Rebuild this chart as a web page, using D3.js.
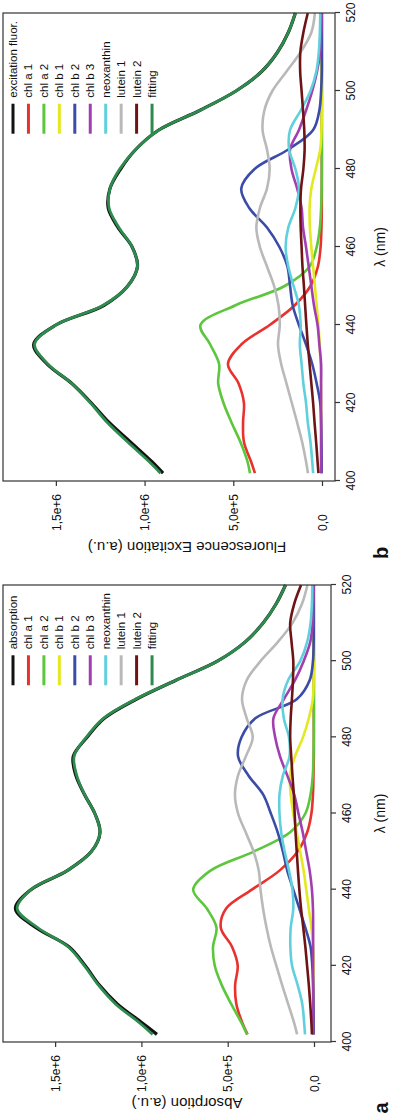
<!DOCTYPE html>
<html>
<head>
<meta charset="utf-8">
<script src="https://cdn.jsdelivr.net/npm/d3@7"></script>
<style>
  body { margin: 0; background: #fff; }
  svg { display: block; font-family: "Liberation Sans", Arial, sans-serif; }
</style>
</head>
<body>
<div class="chart"></div>
<script>
// wavelength grid (nm), shared by every series
const lambda = [402, 405, 410, 415, 420, 425, 430, 435, 440, 445, 450, 455, 460,
  465, 470, 475, 480, 485, 490, 495, 500, 505, 510, 515, 520];

const seriesNames = ["chl a 1", "chl a 2", "chl b 1", "chl b 2", "chl b 3",
  "neoxanthin", "lutein 1", "lutein 2"];
const seriesColors = ["#e8322e", "#5cc63c", "#e4e81e", "#3b4ba8", "#a23fb0",
  "#5fd0dc", "#b9b9b9", "#6e1414"];
const mainColor = "#111111";
const fitColor = "#2e8b4e";

// values in units of 1e5 (a.u.)
// ---- panel a : absorption
const absorption = [9.1, 9.95, 11.4, 12.45, 13.25, 14.2, 16.1, 17.3, 16.4, 14.3, 12.9, 12.4, 12.7,
  13.3, 13.8, 13.95, 13.15, 12.15, 10.3, 8.0, 5.6, 4.0, 2.95, 2.2, 1.65];
const fitA = [9.35, 10.1, 11.5, 12.5, 13.3, 14.25, 16.0, 17.2, 16.4, 14.3, 12.9, 12.4, 12.7,
  13.3, 13.75, 13.9, 13.2, 12.2, 10.35, 8.0, 5.6, 4.0, 2.95, 2.2, 1.65];
const chlA1A = [3.85, 4.15, 4.5, 4.57, 4.42, 4.75, 5.4, 5.1, 3.6, 2.0, 0.95, 0.4, 0.15,
  0.06, 0.03, 0.01, 0.01, 0.01, 0.01, 0.01, 0.01, 0.01, 0.01, 0.01, 0.01];
const chlA2A = [3.88, 4.2, 4.8, 5.35, 5.75, 5.85, 5.65, 6.2, 7.0, 6.0, 3.5, 1.4, 0.5,
  0.2, 0.07, 0.03, 0.01, 0.01, 0.01, 0.01, 0.01, 0.01, 0.01, 0.01, 0.01];
const chlB1A = [0.03, 0.03, 0.03, 0.03, 0.03, 0.05, 0.15, 0.3, 0.45, 0.6, 0.8, 1.0, 1.2,
  1.35, 1.39, 1.1, 0.64, 0.3, 0.07, 0.02, 0.01, 0.01, 0.01, 0.01, 0.01];
const chlB2A = [0.02, 0.02, 0.03, 0.05, 0.1, 0.2, 0.5, 0.85, 1.2, 1.55, 1.8, 2.1, 2.5,
  2.95, 3.8, 4.4, 4.2, 3.4, 1.0, 0.25, 0.06, 0.02, 0.02, 0.02, 0.02];
const chlB3A = [0.05, 0.05, 0.05, 0.05, 0.05, 0.05, 0.05, 0.06, 0.12, 0.25, 0.45, 0.65, 0.9,
  1.15, 1.55, 1.97, 2.25, 2.35, 1.75, 1.1, 0.6, 0.22, 0.08, 0.04, 0.02];
const neoA = [0.52, 0.57, 0.68, 0.95, 1.27, 1.37, 1.35, 1.2, 1.25, 1.45, 1.7, 1.9, 2.0,
  2.0, 1.8, 1.42, 1.45, 1.75, 1.82, 1.5, 0.8, 0.4, 0.2, 0.12, 0.1];
const lut1A = [0.98, 1.15, 1.5, 1.85, 2.18, 2.5, 2.75, 2.95, 3.1, 3.2, 3.5, 3.95, 4.4,
  4.58, 4.4, 3.95, 3.55, 3.9, 4.17, 3.9, 3.1, 2.1, 1.25, 0.7, 0.38];
const lut2A = [0.12, 0.15, 0.22, 0.3, 0.4, 0.5, 0.62, 0.75, 0.85, 0.93, 1.0, 1.07, 1.12,
  1.17, 1.25, 1.32, 1.38, 1.35, 1.28, 1.22, 1.2, 1.3, 1.38, 1.15, 0.75];

// ---- panel b : excitation fluorescence
const excitation = [8.96, 9.6, 10.8, 12.0, 13.0, 14.1, 15.5, 16.25, 15.0, 12.3, 10.95, 10.4, 10.7,
  11.5, 12.05, 11.95, 11.35, 10.5, 9.2, 6.9, 4.85, 3.4, 2.5, 1.9, 1.5];
const fitB = [9.1, 9.75, 10.95, 12.1, 13.05, 14.1, 15.45, 16.2, 15.0, 12.35, 10.95, 10.4, 10.7,
  11.45, 12.0, 11.95, 11.4, 10.5, 9.2, 6.9, 4.85, 3.4, 2.5, 1.9, 1.5];
const chlA1B = [3.78, 4.0, 4.4, 4.45, 4.4, 4.7, 5.3, 4.55, 2.95, 1.55, 0.65, 0.23, 0.08,
  0.03, 0.01, 0.01, 0.01, 0.01, 0.01, 0.01, 0.01, 0.01, 0.01, 0.01, 0.01];
const chlA2B = [4.06, 4.2, 4.6, 5.1, 5.55, 5.85, 5.8, 6.3, 6.85, 4.9, 2.1, 0.7, 0.3,
  0.12, 0.05, 0.02, 0.01, 0.01, 0.01, 0.01, 0.01, 0.01, 0.01, 0.01, 0.01];
const chlB1B = [0.05, 0.05, 0.05, 0.05, 0.05, 0.06, 0.08, 0.13, 0.2, 0.3, 0.4, 0.5, 0.6,
  0.68, 0.7, 0.6, 0.35, 0.1, 0.03, 0.01, 0.01, 0.01, 0.01, 0.01, 0.01];
const chlB2B = [0.02, 0.02, 0.03, 0.05, 0.1, 0.3, 0.55, 0.9, 1.3, 1.65, 1.8, 1.95, 2.4,
  3.1, 4.1, 4.55, 3.8, 1.9, 0.5, 0.15, 0.05, 0.01, 0.01, 0.01, 0.01];
const chlB3B = [0.05, 0.05, 0.05, 0.05, 0.05, 0.05, 0.05, 0.15, 0.25, 0.45, 0.6, 0.75, 0.9,
  1.07, 1.15, 1.4, 1.72, 1.8, 1.3, 0.9, 0.55, 0.28, 0.1, 0.04, 0.02];
const neoB = [0.5, 0.55, 0.65, 0.8, 0.9, 1.05, 1.15, 1.25, 1.2, 1.3, 1.6, 1.9, 2.05,
  1.9, 1.5, 1.3, 1.5, 1.85, 1.8, 1.2, 0.65, 0.32, 0.18, 0.12, 0.1];
const lut1B = [0.79, 0.9, 1.12, 1.4, 1.7, 2.0, 2.3, 2.48, 2.38, 2.45, 2.7, 3.1, 3.5,
  3.7, 3.5, 3.1, 2.95, 3.1, 3.35, 3.25, 2.8, 2.0, 1.2, 0.6, 0.4];
const lut2B = [0.2, 0.25, 0.33, 0.42, 0.5, 0.6, 0.7, 0.8, 0.88, 0.95, 1.02, 1.1, 1.15,
  1.2, 1.22, 1.18, 1.05, 0.98, 1.0, 1.07, 1.15, 1.23, 1.22, 1.05, 0.8];

// axis ticks
const lambdaTicks = [400, 420, 440, 460, 480, 500, 520];
const valueTicks = [0, 5, 10, 15];
const valueTickLabels = ["0,0", "5,0e+5", "1,0e+6", "1,5e+6"];

// the whole figure is drawn landscape and then turned a quarter turn
const W = 1117, H = 393;

const panels = [
  {
    letter: "a", mainName: "absorption", title: "Absorption (a.u.)",
    main: absorption, fit: fitA,
    comps: [chlA1A, chlA2A, chlB1A, chlB2A, chlB3A, neoA, lut1A, lut2A],
    x0: 75, x1: 532, y0: 3, y1: 331, yDomain: [-0.985, 18.02],
    titleX: 14, letterX: 9
  },
  {
    letter: "b", mainName: "excitation fluor.", title: "Fluorescence Excitation (a.u.)",
    main: excitation, fit: fitB,
    comps: [chlA1B, chlA2B, chlB1B, chlB2B, chlB3B, neoB, lut1B, lut2B],
    x0: 636, x1: 1104, y0: 3, y1: 335, yDomain: [-0.733, 17.98],
    titleX: 570, letterX: 564
  }
];

const svg = d3
  .select(".chart")
  .append("svg")
  .attr("width", H)
  .attr("height", W);

svg.append("rect").attr("width", H).attr("height", W).attr("fill", "#fff");

const fig = svg
  .append("g")
  .attr("transform", `translate(0,${W}) rotate(-90)`);

panels.forEach((p) => {
  const g = fig.append("g");

  const xScale = d3.scaleLinear().domain([400, 520]).range([p.x0, p.x1]);
  const yScale = d3.scaleLinear().domain(p.yDomain).range([p.y1, p.y0]);

  const line = d3
    .line()
    .x((d) => xScale(d[0]))
    .y((d) => yScale(d[1]))
    .curve(d3.curveCatmullRom.alpha(0.5));

  const toPts = (vals) => lambda.map((l, i) => [l, vals[i]]);

  // curves
  g.append("path")
    .attr("d", line(toPts(p.main)))
    .attr("fill", "none")
    .attr("stroke", mainColor)
    .attr("stroke-width", 3.2);

  p.comps.forEach((vals, i) => {
    g.append("path")
      .attr("d", line(toPts(vals)))
      .attr("fill", "none")
      .attr("stroke", seriesColors[i])
      .attr("stroke-width", 2.6);
  });

  g.append("path")
    .attr("d", line(toPts(p.fit)))
    .attr("fill", "none")
    .attr("stroke", fitColor)
    .attr("stroke-width", 2.8);

  // box
  g.append("rect")
    .attr("x", p.x0)
    .attr("y", p.y0)
    .attr("width", p.x1 - p.x0)
    .attr("height", p.y1 - p.y0)
    .attr("fill", "none")
    .attr("stroke", "#333")
    .attr("stroke-width", 1.2);

  // axes
  const xAxis = d3.axisBottom(xScale).tickValues(lambdaTicks).tickSize(5).tickSizeOuter(0).tickPadding(6);
  g.append("g")
    .attr("class", "axis x-axis")
    .attr("transform", `translate(0,${p.y1})`)
    .call(xAxis)
    .call((a) => a.select(".domain").remove());

  const yAxis = d3
    .axisLeft(yScale)
    .tickValues(valueTicks)
    .tickSize(5)
    .tickSizeOuter(0)
    .tickFormat((d, i) => valueTickLabels[i]);
  g.append("g")
    .attr("class", "axis y-axis")
    .attr("transform", `translate(${p.x0},0)`)
    .call(yAxis)
    .call((a) => a.select(".domain").remove());

  g.selectAll(".tick line").attr("stroke", "#333").attr("stroke-width", 1.2);
  g.selectAll(".tick text")
    .attr("fill", "#111")
    .style("font-size", "12px")
    .style("font-family", '"Liberation Sans", Arial, sans-serif');
  g.selectAll(".x-axis .tick text").attr("dy", "0.71em");
  g.selectAll(".y-axis .tick text")
    .attr("text-anchor", "start")
    .attr("x", -50)
    .attr("dy", "0.35em");

  // axis titles
  g.append("text")
    .attr("x", (p.x0 + p.x1) / 2)
    .attr("y", 385)
    .attr("text-anchor", "middle")
    .style("font-size", "14px")
    .attr("fill", "#111")
    .text("λ (nm)");

  g.append("text")
    .attr("transform", `translate(${p.titleX},187) rotate(-90)`)
    .attr("text-anchor", "middle")
    .attr("dy", "0.35em")
    .style("font-size", "15px")
    .attr("fill", "#111")
    .text(p.title);

  g.append("text")
    .attr("x", p.letterX)
    .attr("y", 388)
    .attr("text-anchor", "middle")
    .style("font-size", "20px")
    .style("font-weight", "bold")
    .attr("fill", "#111")
    .text(p.letter);

  // legend, anchored at the top right of the box
  const names = [p.mainName].concat(seriesNames, ["fitting"]);
  const colors = [mainColor].concat(seriesColors, [fitColor]);
  const leg = g.append("g");
  const texts = leg
    .selectAll("text")
    .data(names)
    .enter()
    .append("text")
    .attr("y", (d, i) => 13 + i * 15.45)
    .attr("dy", "0.35em")
    .style("font-size", "11.5px")
    .attr("fill", "#111")
    .text((d) => d);
  let maxW = 0;
  texts.each(function () {
    maxW = Math.max(maxW, this.getComputedTextLength());
  });
  const textX = p.x1 - 8 - maxW;
  texts.attr("x", textX);
  leg
    .selectAll("line")
    .data(names)
    .enter()
    .append("line")
    .attr("x1", textX - 36)
    .attr("x2", textX - 6)
    .attr("y1", (d, i) => 13 + i * 15.45)
    .attr("y2", (d, i) => 13 + i * 15.45)
    .attr("stroke", (d, i) => colors[i])
    .attr("stroke-width", 3);
});
</script>
</body>
</html>
